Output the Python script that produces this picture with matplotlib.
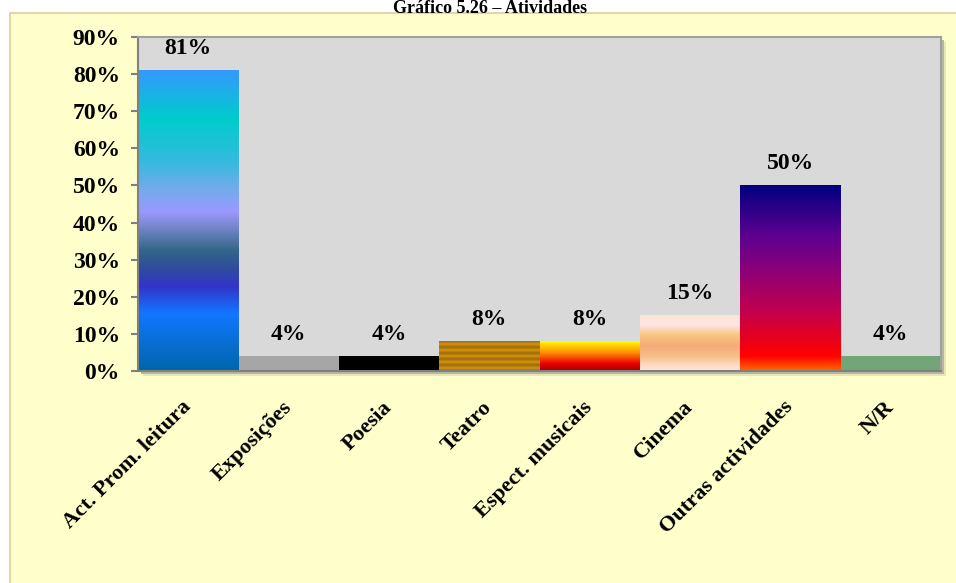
import numpy as np
import matplotlib.pyplot as plt
from matplotlib.colors import LinearSegmentedColormap
from matplotlib.patches import Rectangle

# dados do gráfico
categories = ['Act. Prom. leitura', 'Exposições', 'Poesia', 'Teatro',
              'Espect. musicais', 'Cinema', 'Outras actividades', 'N/R']
values = [81, 4, 4, 8, 8, 15, 50, 4]
value_labels = ['81%', '4%', '4%', '8%', '8%', '15%', '50%', '4%']
y_ticks = [0, 10, 20, 30, 40, 50, 60, 70, 80, 90]
title = 'Gráfico 5.26 – Atividades'

# preenchimentos (gradientes de baixo para cima, ou cor única)
fills = [
    [(0, '#0066AA'), (0.19, '#1177FF'), (0.28, '#3333CC'), (0.345, '#2F4F9A'),
     (0.40, '#336688'), (0.48, '#7788CC'), (0.53, '#9999FF'), (0.60, '#77AAEE'),
     (0.70, '#33BBDD'), (0.84, '#00CCCC'), (1, '#3399FF')],
    '#A6A6A6',
    '#000000',
    [(0, '#9A6A0A'), (0.1, '#D8940A'), (0.2, '#9A6A0A'), (0.3, '#D8940A'),
     (0.4, '#9A6A0A'), (0.5, '#D8940A'), (0.6, '#9A6A0A'), (0.7, '#D8940A'),
     (0.8, '#9A6A0A'), (0.9, '#D8940A'), (1, '#996633')],
    [(0, '#A00000'), (0.25, '#EE0000'), (0.6, '#FF8800'), (1, '#FFFF00')],
    [(0, '#FDE9E0'), (0.12, '#FBD8C0'), (0.25, '#F8C08A'), (0.45, '#F5AA78'),
     (0.65, '#F8C880'), (0.83, '#FFE6E8'), (1, '#FCE4D4')],
    [(0, '#FF6A00'), (0.08, '#FF0000'), (0.33, '#C00050'), (0.55, '#8A0078'),
     (0.73, '#5C0090'), (1, '#000080')],
    '#72A577',
]

plt.rcParams['font.family'] = ['Liberation Serif', 'DejaVu Serif']
plt.rcParams['font.weight'] = 'bold'

fig = plt.figure(figsize=(9.56, 5.83), dpi=100)
fig.patch.set_facecolor('white')

# painel amarelo de fundo
fig.patches.append(Rectangle((10 / 956, -0.1), 1.0, 1.1 - 13 / 583,
                             transform=fig.transFigure, facecolor='#FFFFCC',
                             edgecolor='#D8D0A0', linewidth=1.2, zorder=-2))

ax_l, ax_r = 138 / 956, 941 / 956
ax_b, ax_t = 1 - 371 / 583, 1 - 37 / 583
# sombra da área do gráfico
for off, col in [(5, '#E6E6B8'), (3, '#B8B8A0')]:
    fig.patches.append(Rectangle((ax_l + off / 956, ax_b - off / 583), ax_r - ax_l, ax_t - ax_b,
                                 transform=fig.transFigure, facecolor=col,
                                 edgecolor='none', zorder=-1))

ax = fig.add_axes([ax_l, ax_b, ax_r - ax_l, ax_t - ax_b])
ax.set_zorder(2)
ax.set_facecolor('#D9D9D9')

x = np.arange(len(categories))
bars = ax.bar(x, values, width=1.0, color='none', zorder=1)

grad = np.linspace(0, 1, 256).reshape(-1, 1)
for rect, fill in zip(bars, fills):
    x0, w, h = rect.get_x(), rect.get_width(), rect.get_height()
    if isinstance(fill, str):
        rect.set_facecolor(fill)
        continue
    cmap = LinearSegmentedColormap.from_list('f', fill)
    ax.imshow(grad, extent=[x0, x0 + w, 0, h], origin='lower', aspect='auto',
              cmap=cmap, zorder=2, interpolation='bilinear')

for rect, lab in zip(bars, value_labels):
    ax.annotate(lab, (rect.get_x() + rect.get_width() / 2, rect.get_height()),
                xytext=(0, 8), textcoords='offset points', ha='center', va='bottom',
                fontsize=17, fontweight='bold')

ax.set_xlim(-0.5, len(categories) - 0.5)
ax.set_ylim(0, 90)
ax.set_yticks(y_ticks)
ax.set_yticklabels([f'{t}%' for t in y_ticks], fontsize=17, fontweight='bold')
ax.set_xticks(x)
ax.set_xticklabels(categories, rotation=45, ha='right', va='center',
                   rotation_mode='anchor', fontsize=16, fontweight='bold')
ax.tick_params(axis='x', length=0, pad=24)
ax.tick_params(axis='y', length=5, width=1.5, color='#808080', pad=8)
for s in ax.spines.values():
    s.set_color('#A0A0A0')
    s.set_linewidth(1.5)
ax.spines['left'].set_color('#808080')
ax.spines['bottom'].set_color('#808080')

fig.text(490 / 956, 1.0, title, ha='center', va='top',
         fontsize=13, fontweight='bold')

fig.savefig('out.png', dpi=100)
